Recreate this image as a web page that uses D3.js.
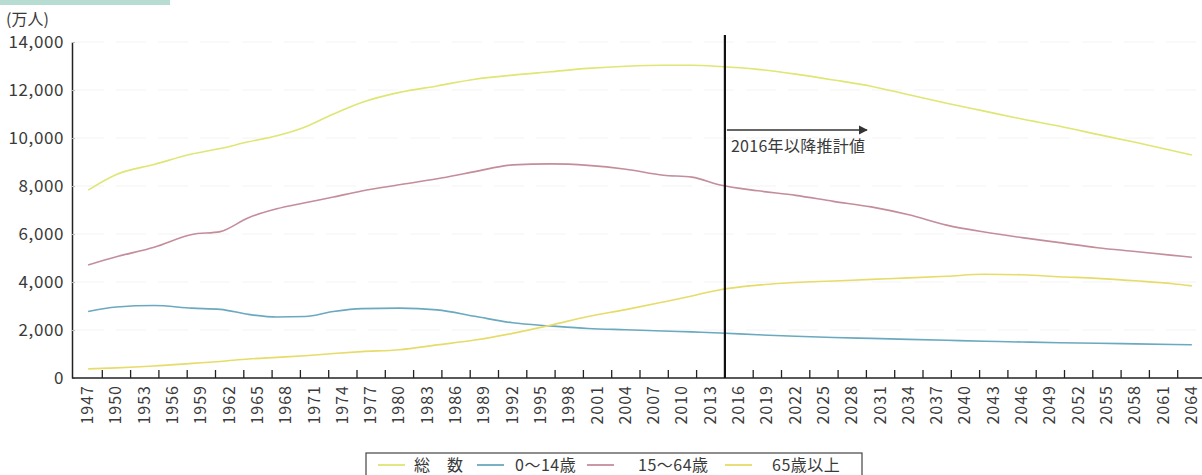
<!DOCTYPE html>
<html>
<head>
<meta charset="utf-8">
<script src="https://cdn.jsdelivr.net/npm/d3@7"></script>
<style>
  body { margin: 0; background: #fff; }
  text { font-family: "Noto Sans CJK JP", "Noto Sans", sans-serif; fill: #3a3a3a; }
</style>
</head>
<body>
<div id="chart"></div>
<script>
const years = [1947, 1950, 1954, 1958, 1961, 1964, 1967, 1970, 1973, 1976, 1980, 1984, 1988, 1992, 1996, 2000,
  2004, 2008, 2011, 2014, 2018, 2022, 2026, 2030, 2034, 2038, 2042, 2046, 2050, 2054, 2058, 2062, 2064];

const total = [7830, 8480, 8900, 9330, 9560, 9840, 10090, 10460, 11000, 11480, 11900, 12170, 12450, 12620, 12760, 12900,
  12990, 13030, 13030, 12980, 12860, 12660, 12420, 12160, 11800, 11450, 11120, 10790, 10490, 10150, 9820, 9470, 9290];
const age0to14 = [2770, 2960, 3020, 2910, 2860, 2650, 2540, 2560, 2770, 2890, 2910, 2840, 2570, 2300, 2170, 2060,
  2010, 1960, 1920, 1875, 1800, 1740, 1690, 1650, 1610, 1570, 1530, 1500, 1470, 1450, 1420, 1395, 1385];
const age15to64 = [4710, 5050, 5450, 5980, 6100, 6680, 7050, 7300, 7540, 7790, 8050, 8300, 8600, 8880, 8920, 8860,
  8700, 8450, 8370, 8040, 7800, 7610, 7360, 7130, 6800, 6370, 6080, 5850, 5640, 5430, 5270, 5110, 5030];
const age65plus = [380, 420, 500, 610, 690, 790, 860, 930, 1020, 1100, 1180, 1380, 1580, 1860, 2200, 2560,
  2850, 3170, 3420, 3680, 3870, 3980, 4040, 4110, 4170, 4240, 4320, 4300, 4220, 4150, 4050, 3930, 3840];

const tickYears = ["1947", "1950", "1953", "1956", "1959", "1962", "1965", "1968", "1971", "1974", "1977", "1980",
  "1983", "1986", "1989", "1992", "1995", "1998", "2001", "2004", "2007", "2010", "2013", "2016", "2019", "2022",
  "2025", "2028", "2031", "2034", "2037", "2040", "2043", "2046", "2049", "2052", "2055", "2058", "2061", "2064"];
const yTicks = [0, 2000, 4000, 6000, 8000, 10000, 12000, 14000];

const series = [
  { name: "総　数", values: total, color: "#dfe673" },
  { name: "0～14歳", values: age0to14, color: "#6aa9bf" },
  { name: "15～64歳", values: age15to64, color: "#c48d9c" },
  { name: "65歳以上", values: age65plus, color: "#e6dc6a" }
];

let dimensions = {
  width: 1202,
  height: 475,
  margin: { top: 42, right: 0, bottom: 97, left: 72 }
};
dimensions.boundedHeight = dimensions.height - dimensions.margin.top - dimensions.margin.bottom;

let svg = d3.select('#chart')
  .append('svg')
  .attr('width', dimensions.width)
  .attr('height', dimensions.height);

// scan strip at the top-left
svg.append('rect')
  .attr('x', 0).attr('y', 0)
  .attr('width', 170).attr('height', 5)
  .attr('fill', '#b7ddd3');

// x: one band per label, lines run through band centres
let xBand = d3.scaleBand()
  .domain(tickYears)
  .range([74, 1206])
  .padding(0);
let bw = xBand.bandwidth();

let x = d3.scaleLinear()
  .domain([+tickYears[0], +tickYears[tickYears.length - 1]])
  .range([xBand(tickYears[0]) + bw / 2, xBand(tickYears[tickYears.length - 1]) + bw / 2]);

let y = d3.scaleLinear()
  .domain([0, 14000])
  .range([dimensions.margin.top + dimensions.boundedHeight, dimensions.margin.top]);

// faint grid
svg.append('g')
  .selectAll('line')
  .data(yTicks.slice(1))
  .enter()
  .append('line')
  .attr('x1', 74).attr('x2', 1202)
  .attr('y1', d => y(d)).attr('y2', d => y(d))
  .style('stroke', '#f3f3f3')
  .style('stroke-dasharray', '30 12');

// lines
let line = d3.line()
  .x((d, i) => x(years[i]))
  .y(d => y(d))
  .curve(d3.curveMonotoneX);

svg.selectAll('path.series')
  .data(series)
  .enter()
  .append('path')
  .attr('class', 'series')
  .attr('d', s => line(s.values))
  .attr('fill', 'none')
  .attr('stroke', s => s.color)
  .attr('stroke-width', 1.6);

// y axis
let yAxis = svg.append('g')
  .attr('transform', `translate(${dimensions.margin.left},0)`)
  .call(d3.axisLeft(y).tickValues(yTicks).tickFormat(d3.format(',')).tickSizeInner(-3).tickSizeOuter(0).tickPadding(8));
yAxis.select('.domain').attr('stroke', '#222').attr('stroke-width', 1.5);
yAxis.selectAll('.tick line').attr('stroke', '#bbb');
yAxis.selectAll('.tick text')
  .attr('font-size', 17)
  .attr('letter-spacing', 0.6)
  .style('font-family', '"Noto Sans CJK JP", sans-serif')
  .style('fill', '#3a3a3a');

svg.append('text')
  .attr('x', 6).attr('y', 25)
  .attr('font-size', 16)
  .text('(万人)');

// x axis: baseline, inward ticks on band edges, rotated labels at band centres
let baseY = y(0);
svg.append('line')
  .attr('x1', dimensions.margin.left).attr('x2', 1202)
  .attr('y1', baseY).attr('y2', baseY)
  .style('stroke', '#222').style('stroke-width', 1.5);

svg.append('g')
  .selectAll('line')
  .data(tickYears.slice(1))
  .enter()
  .append('line')
  .attr('x1', d => xBand(d)).attr('x2', d => xBand(d))
  .attr('y1', baseY).attr('y2', baseY - 8)
  .style('stroke', '#222').style('stroke-width', 1.3);

svg.append('g')
  .selectAll('text')
  .data(tickYears)
  .enter()
  .append('text')
  .attr('transform', d => `translate(${xBand(d) + bw / 2 + 5},${baseY + 7}) rotate(-90)`)
  .attr('text-anchor', 'end')
  .attr('font-size', 16)
  .attr('letter-spacing', 1)
  .text(d => d);

// projection divider
let divX = xBand('2016');
svg.append('line')
  .attr('x1', divX).attr('x2', divX)
  .attr('y1', 35).attr('y2', baseY)
  .style('stroke', '#111').style('stroke-width', 2.2);

svg.append('defs').append('marker')
  .attr('id', 'arrow')
  .attr('viewBox', '0 0 10 10')
  .attr('refX', 9).attr('refY', 5)
  .attr('markerWidth', 7).attr('markerHeight', 7)
  .attr('orient', 'auto')
  .append('path')
  .attr('d', 'M0,0 L10,5 L0,10 z')
  .attr('fill', '#333');

svg.append('line')
  .attr('x1', divX + 2).attr('x2', divX + 142)
  .attr('y1', 130).attr('y2', 130)
  .style('stroke', '#333').style('stroke-width', 1.3)
  .attr('marker-end', 'url(#arrow)');

svg.append('text')
  .attr('x', divX + 6).attr('y', 152)
  .attr('font-size', 16)
  .attr('letter-spacing', 0.3)
  .text('2016年以降推計値');

// legend
let legend = svg.append('g');
legend.append('rect')
  .attr('x', 366).attr('y', 453)
  .attr('width', 496).attr('height', 30)
  .attr('fill', '#fff')
  .attr('stroke', '#444').attr('stroke-width', 1.2);

let legendX = [378, 477, 587, 725];
let legendTextX = [414, 515, 638, 772];
series.forEach(function (s, i) {
  legend.append('line')
    .attr('x1', legendX[i]).attr('x2', legendX[i] + 27)
    .attr('y1', 465).attr('y2', 465)
    .style('stroke', s.color).style('stroke-width', 1.8);
  legend.append('text')
    .attr('x', legendTextX[i]).attr('y', 471)
    .attr('font-size', 16)
    .attr('letter-spacing', 0.5)
    .text(s.name);
});
</script>
</body>
</html>
